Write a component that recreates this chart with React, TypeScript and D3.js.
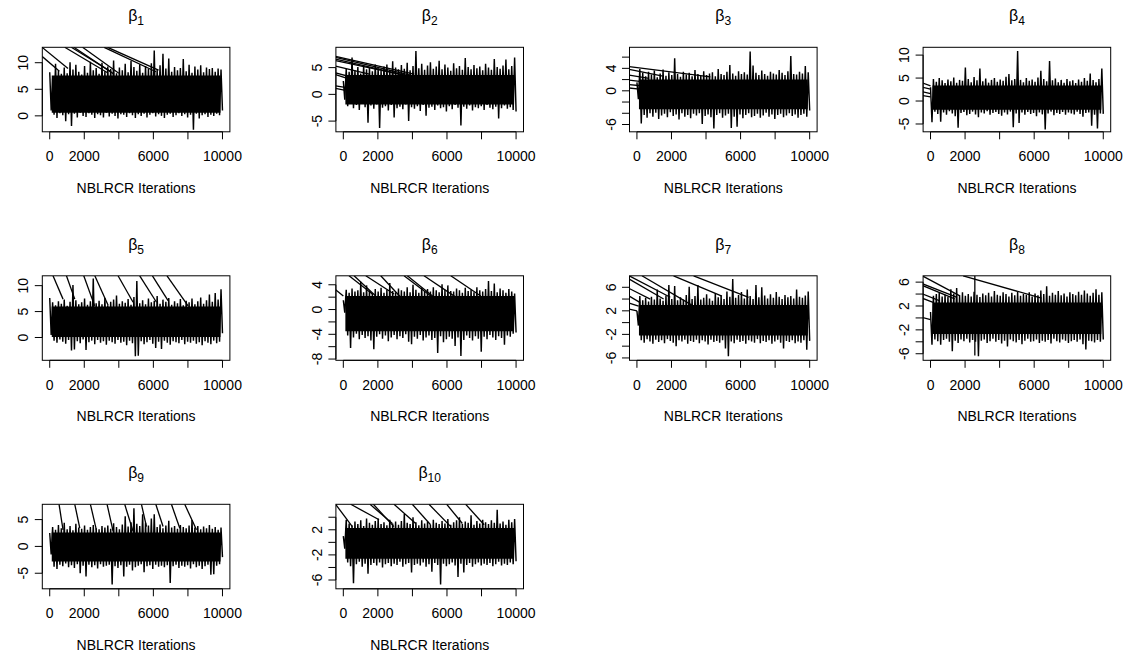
import React from "react";
import * as d3 from "d3";

// ---------- data ----------
const panelSubscripts = ["1", "2", "3", "4", "5", "6", "7", "8", "9", "10"];
const xTickValues = [0, 2000, 4000, 6000, 8000, 10000];
const xTickLabels = ["0", "2000", "", "6000", "", "10000"];
const xAxisTitle = "NBLRCR Iterations";
const iterationRange: [number, number] = [0, 10000];

// value shown at the bottom / top edge of each plot box
const yDomains: [number, number][] = [
  [-3.0, 12.9], [-7.0, 8.8], [-7.3, 7.75], [-6.7, 11.7], [-4.4, 11.9],
  [-8.2, 5.45], [-6.4, 7.95], [-7.1, 7.06], [-7.9, 7.85], [-7.4, 6.06],
];
const yTickValues: number[][] = [
  [0, 5, 10], [-5, 0, 5], [-6, -4, -2, 0, 2, 4, 6], [-5, 0, 5, 10], [0, 5, 10],
  [-8, -6, -4, -2, 0, 2, 4], [-6, -4, -2, 0, 2, 4, 6], [-6, -4, -2, 0, 2, 4, 6],
  [-5, 0, 5], [-6, -4, -2, 0, 2, 4],
];
const yTickLabels: string[][] = [
  ["0", "5", "10"], ["-5", "0", "5"], ["-6", "", "", "0", "", "4", ""], ["-5", "0", "5", "10"],
  ["0", "5", "10"], ["-8", "", "-4", "", "0", "", "4"], ["-6", "", "-2", "", "2", "", "6"],
  ["-6", "", "-2", "", "2", "", "6"], ["-5", "0", "5"], ["-6", "", "-2", "", "2", ""],
];
// dense central part of each trace [low, high]
const coreBands: [number, number][] = [
  [0.6, 7.6], [-1.9, 3.6], [-3.3, 2.0], [-1.9, 3.4], [0.1, 6.0],
  [-3.5, 2.2], [-2.2, 3.0], [-2.7, 2.6], [-2.8, 2.6], [-2.6, 2.3],
];

// successive highs / lows of each trace, left to right
const b1High = [8.2, 7.0, 9.8, 8.5, 7.9, 9.1, 8.0, 10.1, 8.7, 9.6, 8.3, 7.8, 9.4, 8.1, 10.2, 8.6, 9.0, 7.9, 10.0, 8.4, 9.3, 8.8, 10.4, 8.0, 9.1, 8.6, 9.8, 8.2, 10.3, 9.2, 8.5, 9.7, 8.1, 9.4, 8.8, 9.9, 12.3, 8.7, 9.5, 11.7, 8.9, 10.8, 8.3, 9.2, 8.6, 9.0, 10.7, 8.4, 9.6, 8.1, 9.3, 8.7, 9.5, 8.2, 9.1, 8.8, 9.0, 8.3, 8.9, 8.7];
const b1Low = [1.0, 0.2, -0.4, 0.5, 0.1, -1.0, 0.3, -1.9, 0.4, -0.3, 0.6, 0.0, -0.2, 0.5, 0.2, -0.4, 0.3, 0.1, -0.3, 0.6, -0.1, 0.4, 0.0, -0.5, 0.3, 0.2, -0.2, 0.5, 0.1, -0.4, 0.3, 0.0, 0.4, -0.3, 0.2, 0.5, -0.1, 0.3, 0.0, -0.4, 0.2, 0.4, -0.2, 0.1, 0.5, 0.0, 0.3, -0.3, 0.2, -2.6, 0.4, -0.5, 0.1, 0.3, -0.2, 0.2, 0.0, 0.4, 0.1, 1.0];
const b2High = [2.5, 4.8, 4.2, 6.9, 4.5, 5.1, 3.9, 5.4, 4.7, 5.0, 4.3, 5.6, 4.9, 4.4, 5.2, 5.6, 4.6, 6.2, 5.0, 4.7, 5.5, 4.8, 5.9, 4.5, 5.3, 8.1, 4.9, 5.7, 4.6, 5.4, 6.0, 4.8, 5.2, 6.3, 4.7, 5.6, 5.0, 4.4, 5.8, 4.9, 5.3, 4.6, 6.8, 5.1, 4.7, 5.5, 4.9, 5.2, 4.5, 5.7, 5.0, 4.6, 6.6, 5.1, 4.8, 5.4, 6.5, 4.7, 5.3, 6.9];
const b2Low = [-1.0, -2.2, -1.8, -2.6, -2.0, -2.9, -1.7, -2.4, -5.3, -2.1, -2.7, -1.9, -6.3, -2.5, -2.2, -3.0, -2.0, -4.3, -2.6, -2.3, -2.8, -1.9, -5.0, -2.4, -2.7, -2.2, -3.1, -2.0, -4.0, -2.5, -2.3, -2.9, -2.1, -2.6, -2.4, -3.2, -2.2, -2.8, -2.0, -2.5, -5.8, -2.3, -2.7, -2.1, -3.0, -2.4, -2.6, -2.2, -2.9, -2.0, -2.5, -2.8, -2.3, -4.5, -2.6, -2.1, -2.7, -2.4, -2.9, -3.2];
const b3High = [1.5, 3.9, 3.2, 2.6, 3.4, 2.9, 3.6, 2.4, 3.1, 3.8, 2.7, 3.3, 2.8, 5.8, 3.0, 2.5, 3.4, 2.9, 3.2, 2.6, 3.7, 3.0, 2.7, 3.5, 2.8, 3.1, 3.3, 2.6, 3.9, 3.0, 2.8, 3.4, 4.6, 3.1, 2.7, 3.5, 3.0, 3.3, 2.9, 7.0, 4.5, 3.2, 2.8, 3.6, 3.0, 2.7, 3.4, 3.1, 2.9, 3.7, 3.2, 2.8, 3.5, 6.2, 3.0, 2.9, 3.4, 3.1, 4.4, 3.3];
const b3Low = [-1.5, -5.8, -4.3, -4.8, -4.0, -4.6, -3.9, -5.0, -4.4, -4.1, -4.7, -3.8, -4.5, -4.2, -5.1, -4.0, -4.6, -4.3, -4.9, -4.1, -4.4, -4.0, -5.9, -4.5, -4.2, -4.7, -6.7, -4.3, -4.0, -4.8, -4.4, -4.1, -6.6, -4.6, -6.4, -4.2, -4.9, -4.3, -4.0, -4.7, -4.5, -4.1, -4.8, -4.4, -3.9, -4.6, -4.2, -5.0, -4.3, -4.1, -4.7, -4.4, -4.0, -4.5, -4.2, -4.8, -4.3, -4.1, -4.6, -3.5];
const b4High = [3.0, 4.8, 4.2, 5.0, 4.5, 3.9, 4.7, 4.3, 5.1, 4.0, 4.6, 4.4, 7.3, 4.8, 4.1, 5.2, 4.5, 7.1, 4.3, 4.9, 4.0, 4.6, 5.0, 4.2, 4.7, 4.4, 5.3, 5.9, 4.5, 4.8, 10.9, 4.6, 4.1, 5.0, 4.4, 4.7, 4.2, 5.1, 6.6, 4.8, 4.3, 8.7, 4.5, 4.9, 4.1, 4.6, 4.0, 4.8, 4.3, 4.5, 3.9, 4.7, 4.2, 5.0, 4.4, 6.0, 4.6, 4.1, 4.8, 7.1];
const b4Low = [-4.6, -2.3, -2.8, -4.5, -2.5, -3.0, -2.2, -2.7, -3.3, -5.8, -2.6, -2.4, -3.1, -2.8, -2.3, -2.9, -3.5, -2.5, -2.7, -2.2, -3.0, -2.6, -2.4, -2.8, -3.2, -2.5, -2.9, -2.3, -5.7, -2.7, -4.8, -2.5, -3.0, -2.4, -2.8, -2.6, -3.3, -2.5, -2.9, -6.2, -2.7, -2.3, -3.1, -2.6, -2.8, -2.4, -3.0, -2.5, -2.7, -2.9, -2.3, -2.8, -3.4, -2.6, -2.5, -5.4, -3.0, -6.0, -2.7, -2.8];
const b5High = [7.6, 6.8, 6.2, 7.0, 6.5, 7.3, 6.1, 6.9, 10.1, 7.2, 6.4, 6.8, 7.5, 6.3, 7.0, 11.4, 6.6, 7.1, 6.4, 7.6, 6.2, 6.9, 7.3, 8.1, 6.5, 7.0, 6.7, 7.4, 6.3, 7.8, 10.9, 6.6, 7.2, 6.4, 7.5, 6.8, 7.1, 8.0, 6.5, 7.3, 6.9, 7.6, 6.3, 7.0, 6.6, 7.4, 6.2, 7.1, 6.8, 7.5, 6.4, 7.0, 7.7, 6.5, 7.2, 8.3, 6.9, 8.6, 7.3, 9.3];
const b5Low = [0.5, -0.6, -1.0, -0.4, -0.8, -1.2, -0.5, -2.5, -2.3, -0.7, -1.1, -0.4, -2.4, -0.9, -0.6, -1.3, -0.5, -1.0, -0.7, -1.4, -0.6, -0.9, -1.2, -0.5, -1.0, -0.8, -1.5, -0.6, -1.1, -3.6, -3.5, -0.7, -1.3, -0.9, -0.5, -1.2, -2.0, -0.8, -2.2, -0.6, -1.0, -1.4, -0.7, -0.9, -1.1, -0.5, -1.3, -0.8, -1.0, -0.6, -1.2, -0.9, -1.5, -0.7, -1.0, -1.3, -0.6, -1.1, -0.8, 0.8];
const b6High = [1.5, 3.2, 2.7, 3.4, 2.9, 3.1, 4.5, 2.8, 3.9, 3.0, 2.6, 3.3, 2.9, 3.5, 2.7, 3.2, 4.3, 3.0, 2.8, 3.4, 3.1, 2.9, 3.6, 2.8, 4.0, 3.2, 2.7, 3.5, 3.0, 3.3, 2.9, 3.6, 3.1, 2.8, 4.1, 3.2, 3.9, 3.0, 2.9, 3.4, 3.1, 2.7, 3.5, 3.0, 3.2, 2.8, 3.6, 3.1, 2.9, 3.3, 4.6, 3.0, 4.2, 2.8, 3.4, 3.1, 2.7, 3.3, 2.9, 2.6];
const b6Low = [-0.5, -4.2, -6.2, -4.5, -3.9, -4.8, -4.1, -4.6, -4.3, -5.0, -6.4, -4.4, -4.0, -4.7, -4.2, -5.1, -4.5, -4.1, -4.8, -4.3, -4.6, -4.0, -5.2, -5.6, -4.4, -4.7, -4.1, -5.0, -4.5, -4.2, -4.9, -4.6, -7.0, -4.3, -5.3, -4.8, -4.4, -4.7, -5.9, -4.5, -7.5, -4.9, -4.2, -4.6, -5.0, -4.3, -4.7, -6.8, -4.4, -4.8, -4.1, -4.5, -4.9, -4.3, -4.6, -5.7, -4.2, -4.4, -3.9, -3.7];
const b7High = [2.0, 4.5, 3.8, 4.2, 3.6, 4.4, 3.9, 5.6, 4.1, 3.7, 4.6, 6.4, 4.0, 6.2, 3.8, 4.3, 3.9, 4.7, 6.1, 4.0, 4.5, 6.4, 3.9, 4.2, 4.8, 4.1, 3.7, 5.0, 4.3, 4.6, 4.0, 5.3, 4.4, 7.4, 4.2, 4.7, 5.2, 4.1, 5.6, 4.5, 4.0, 6.4, 4.3, 6.0, 4.6, 4.1, 4.8, 4.2, 5.2, 4.4, 4.0, 4.7, 4.3, 4.5, 4.1, 5.6, 4.4, 4.2, 4.6, 5.3];
const b7Low = [-0.5, -3.0, -3.4, -2.8, -3.2, -3.6, -2.9, -3.3, -3.0, -3.5, -2.8, -3.1, -3.4, -4.0, -3.0, -3.2, -2.9, -3.6, -3.1, -3.3, -2.9, -3.5, -3.0, -3.2, -3.7, -2.9, -3.3, -3.1, -3.4, -3.0, -4.4, -5.7, -3.2, -3.5, -2.9, -3.3, -3.1, -3.6, -3.0, -3.2, -3.4, -2.8, -3.5, -3.1, -3.3, -3.0, -3.6, -3.2, -2.9, -3.4, -4.4, -3.1, -3.3, -3.0, -3.5, -3.2, -3.4, -3.0, -4.6, -3.1];
const b8High = [1.0, 3.7, 4.0, 4.2, 3.6, 3.9, 3.5, 4.8, 4.1, 5.0, 3.8, 4.3, 3.7, 4.0, 3.6, 4.4, 3.9, 3.5, 4.1, 3.8, 4.2, 3.6, 4.5, 3.9, 3.7, 4.3, 4.0, 3.6, 4.2, 3.8, 4.4, 3.7, 4.0, 3.9, 4.3, 3.6, 4.1, 3.8, 4.6, 4.0, 5.3, 3.7, 4.2, 3.9, 4.5, 3.8, 4.1, 3.6, 4.3, 4.0, 3.8, 4.4, 3.9, 4.6, 4.1, 3.7, 4.2, 4.8, 3.9, 4.3];
const b8Low = [-4.5, -3.6, -3.9, -4.5, -3.7, -3.5, -4.0, -5.6, -3.8, -4.2, -3.6, -3.9, -3.5, -4.1, -3.7, -4.0, -6.4, -3.8, -3.6, -4.2, -3.9, -3.5, -4.0, -3.7, -4.3, -3.8, -4.8, -3.6, -3.9, -4.1, -3.7, -4.4, -3.8, -3.5, -4.0, -3.9, -3.6, -4.2, -3.8, -4.0, -3.7, -4.3, -3.5, -3.9, -4.1, -3.6, -3.8, -4.2, -3.9, -3.7, -4.0, -3.6, -4.4, -5.3, -3.8, -3.9, -4.1, -3.7, -4.0, -3.6];
const b9High = [2.5, 3.6, 3.1, 4.0, 3.4, 4.4, 3.2, 3.8, 3.0, 4.2, 3.5, 3.3, 3.9, 3.1, 3.6, 4.0, 3.4, 3.2, 3.8, 3.5, 3.9, 3.3, 4.3, 3.6, 3.2, 4.1, 5.6, 3.7, 4.5, 7.1, 4.2, 3.8, 6.0, 4.4, 3.9, 5.2, 6.0, 3.6, 4.1, 3.4, 3.9, 4.8, 3.5, 3.8, 3.3, 4.0, 3.6, 3.4, 3.9, 4.9, 3.5, 3.8, 3.2, 3.7, 3.4, 4.0, 3.3, 3.6, 3.1, 3.5];
const b9Low = [-1.5, -3.8, -4.2, -3.4, -3.7, -3.2, -3.9, -3.5, -4.0, -3.3, -5.0, -3.6, -5.6, -3.4, -3.9, -3.5, -4.1, -3.3, -3.8, -3.6, -3.4, -7.1, -3.7, -4.0, -3.5, -5.6, -3.8, -3.4, -4.5, -3.9, -3.6, -3.3, -4.8, -3.7, -3.5, -4.2, -3.4, -3.8, -3.6, -3.9, -3.5, -6.8, -3.7, -3.4, -4.0, -3.6, -3.8, -3.5, -4.1, -3.3, -3.9, -3.6, -4.2, -3.7, -3.4, -5.3, -5.2, -3.6, -3.3, -2.0];
const b10High = [1.0, 3.6, 3.0, 2.7, 3.3, 2.9, 3.5, 2.6, 3.8, 3.1, 2.8, 3.4, 3.8, 2.9, 3.2, 2.7, 3.6, 3.0, 3.3, 2.8, 3.4, 4.5, 3.1, 2.9, 4.0, 3.2, 2.7, 3.5, 3.0, 3.3, 2.8, 3.6, 3.1, 2.9, 3.4, 3.0, 3.7, 2.8, 3.2, 3.5, 4.0, 2.9, 3.3, 3.1, 4.3, 2.8, 3.4, 3.0, 3.6, 3.2, 2.9, 3.5, 3.1, 5.2, 3.0, 3.3, 2.8, 3.6, 3.2, 3.7];
const b10Low = [-1.0, -3.2, -3.8, -6.5, -3.5, -3.1, -3.9, -3.4, -5.0, -3.6, -3.3, -3.7, -3.2, -4.0, -3.5, -3.3, -3.8, -3.4, -3.6, -3.1, -3.9, -3.5, -3.3, -4.8, -3.6, -3.4, -3.7, -3.2, -3.9, -3.5, -4.7, -3.3, -3.6, -6.7, -3.4, -3.8, -3.5, -3.2, -3.7, -5.5, -3.4, -4.8, -3.6, -3.3, -3.9, -3.5, -3.2, -3.7, -3.4, -3.6, -3.3, -3.8, -3.5, -3.1, -3.7, -3.4, -3.6, -3.2, -3.5, -3.0];

// straight jumps between chains: [x0, y0, x1, y1] in iterations / parameter units
const b1Jumps = [[-446, 12.9, 1060, 8.9], [-446, 11.2, 560, 8.4], [870, 12.9, 3350, 8.1], [1250, 12.9, 3550, 8.3], [1400, 12.9, 3700, 7.9], [1900, 12.9, 4000, 8.0], [3150, 12.9, 6150, 8.3], [3350, 12.9, 6300, 8.6]];
const b2Jumps = [[-446, 7.1, 4100, 3.8], [-446, 6.9, 4000, 3.5], [-446, 6.6, 3800, 3.4], [-446, 6.3, 3500, 3.6], [-446, 5.3, 1500, 3.8], [-446, 4.0, 500, 3.2], [-446, 3.7, 400, 2.8], [-446, 1.6, 100, 1.3], [-446, 1.1, 50, 0.8]];
const b3Jumps = [[-446, 4.3, 4250, 2.5], [-446, 3.8, 1500, 2.6], [-446, 2.8, 700, 2.2], [-446, 1.9, 400, 1.6], [-446, 1.1, 250, 0.9], [-446, 0.5, 150, 0.3]];
const b4Jumps = [[-446, 3.9, 0, 3.3], [-446, 3.0, 0, 2.6], [-446, 2.0, 0, 1.6], [-446, 1.2, 0, 0.9]];
const b5Jumps = [[190, 11.9, 770, 7.4], [967, 11.9, 1450, 7.4], [1970, 11.9, 2600, 6.1], [2610, 11.9, 3380, 6.2], [3955, 11.9, 4825, 6.8], [5210, 11.9, 6180, 6.8], [5945, 11.9, 6850, 7.1], [6790, 11.9, 8010, 6.1]];
const b6Jumps = [[-446, 3.2, 0, 2.2], [330, 5.45, 1680, 2.5], [620, 5.45, 1875, 2.2], [1300, 5.45, 2935, 2.5], [2165, 5.45, 3415, 1.7], [3515, 5.45, 5060, 2.2], [3705, 5.45, 5250, 2.0], [4670, 5.45, 6510, 2.0], [6220, 5.45, 7955, 2.2]];
const b7Jumps = [[-446, 7.95, 1930, 4.3], [-446, 7.4, 1545, 4.0], [-446, 5.8, 770, 4.0], [-446, 4.5, 190, 3.4], [-446, 3.3, 100, 2.8], [-446, 2.3, 0, 2.0], [290, 7.95, 3280, 2.8], [2120, 7.95, 4920, 4.5], [3280, 7.95, 6465, 4.3]];
const b8Jumps = [[-446, 7.0, 1700, 3.7], [1890, 7.06, 6425, 3.3], [-446, 5.7, 1500, 3.5], [-446, 5.4, 1400, 3.2], [-446, 4.0, 540, 2.85], [-446, 3.26, 150, 2.6], [-446, 0.07, 0, -0.3], [2565, 7.06, 2565, -6.3]];
const b9Jumps = [[540, 7.85, 770, 3.1], [1450, 7.85, 1740, 3.4], [2355, 7.85, 2700, 3.1], [3320, 7.85, 3670, 2.8], [4340, 7.85, 4825, 2.8], [5310, 7.85, 5600, 3.7], [6140, 7.85, 6560, 3.7], [7045, 7.85, 7530, 3.4], [7815, 7.85, 8495, 3.1]];
const b10Jumps = [[-446, 6.06, 520, 2.5], [430, 6.06, 2070, 3.6], [1545, 6.06, 2840, 3.0], [1740, 6.06, 2925, 2.5], [2935, 6.06, 4190, 3.0], [3995, 6.06, 5050, 2.8], [4960, 6.06, 6220, 2.5], [5985, 6.06, 6890, 3.0], [7085, 6.06, 8150, 2.8]];

const traceHighs = [b1High, b2High, b3High, b4High, b5High, b6High, b7High, b8High, b9High, b10High];
const traceLows = [b1Low, b2Low, b3Low, b4Low, b5Low, b6Low, b7Low, b8Low, b9Low, b10Low];
const traceJumps = [b1Jumps, b2Jumps, b3Jumps, b4Jumps, b5Jumps, b6Jumps, b7Jumps, b8Jumps, b9Jumps, b10Jumps];

// ---------- layout ----------
const W = 1131;
const H = 656;
const BOX_LEFT0 = 42.3;
const COL_STEP = 293.6;
const BOX_TOP0 = 47.3;
const ROW_STEP = 228.5;
const BOX_W = 187.6;
const BOX_H = 84.5;
const X_PAD = 430;
const FONT = "'Liberation Sans', Arial, Helvetica, sans-serif";
const AXIS_FS = 14;
const TICK = 7.5;

function Panel({ k }: { k: number }) {
  const col = k % 4;
  const row = Math.floor(k / 4);
  const left = BOX_LEFT0 + col * COL_STEP;
  const top = BOX_TOP0 + row * ROW_STEP;
  const right = left + BOX_W;
  const bottom = top + BOX_H;

  const x = d3.scaleLinear().domain([iterationRange[0] - X_PAD, iterationRange[1] + X_PAD]).range([left, right]);
  const y = d3.scaleLinear().domain(yDomains[k]).range([bottom, top]);

  const highs = traceHighs[k];
  const lows = traceLows[k];
  const n = highs.length;
  const step = (iterationRange[1] - iterationRange[0]) / (n - 0.5);
  const pts: [number, number][] = [];
  for (let i = 0; i < n; i++) {
    pts.push([iterationRange[0] + i * step, highs[i]]);
    pts.push([iterationRange[0] + (i + 0.5) * step, lows[i]]);
  }
  const line = d3.line<[number, number]>().x((d) => x(d[0])).y((d) => y(d[1]));
  const core = coreBands[k];
  const area = d3
    .area<number>()
    .x((d) => x(d))
    .y0(() => y(core[0]))
    .y1(() => y(core[1]));

  const clipId = `clip-${k}`;
  const ticksY = yTickValues[k];
  const labelsY = yTickLabels[k];

  return (
    <g>
      <defs>
        <clipPath id={clipId}>
          <rect x={left} y={top} width={BOX_W} height={BOX_H} />
        </clipPath>
      </defs>
      <g clipPath={`url(#${clipId})`}>
        <path d={area([iterationRange[0] + step * 0.7, iterationRange[1] - step * 0.7]) || ""} fill="#000" />
        <path d={line(pts) || ""} fill="none" stroke="#000" strokeWidth={1.45} strokeLinejoin="bevel" />
        {traceJumps[k].map((s, i) => (
          <line key={i} x1={x(s[0])} y1={y(s[1])} x2={x(s[2])} y2={y(s[3])} stroke="#000" strokeWidth={1.3} />
        ))}
      </g>
      <rect x={left} y={top} width={BOX_W} height={BOX_H} fill="none" stroke="#000" strokeWidth={1} />
      {/* title */}
      <text x={(left + right) / 2} y={top - 26} textAnchor="middle" fontFamily={FONT} fontSize={16} fill="#000">
        β<tspan fontSize={12} dy={4}>{panelSubscripts[k]}</tspan>
      </text>
      {/* x axis */}
      <line x1={x(xTickValues[0])} x2={x(xTickValues[xTickValues.length - 1])} y1={bottom} y2={bottom} stroke="#000" />
      {xTickValues.map((t, i) => (
        <g key={i}>
          <line x1={x(t)} x2={x(t)} y1={bottom} y2={bottom + TICK} stroke="#000" />
          {xTickLabels[i] && (
            <text x={x(t)} y={bottom + 29.5} textAnchor="middle" fontFamily={FONT} fontSize={AXIS_FS} fill="#000">
              {xTickLabels[i]}
            </text>
          )}
        </g>
      ))}
      <text x={(left + right) / 2} y={bottom + 61} textAnchor="middle" fontFamily={FONT} fontSize={AXIS_FS} fill="#000">
        {xAxisTitle}
      </text>
      {/* y axis */}
      <line x1={left} x2={left} y1={y(ticksY[0])} y2={y(ticksY[ticksY.length - 1])} stroke="#000" />
      {ticksY.map((t, i) => (
        <g key={i}>
          <line x1={left - TICK} x2={left} y1={y(t)} y2={y(t)} stroke="#000" />
          {labelsY[i] && (
            <text
              transform={`translate(${left - 14},${y(t)}) rotate(-90)`}
              textAnchor="middle"
              fontFamily={FONT}
              fontSize={AXIS_FS}
              fill="#000"
            >
              {labelsY[i]}
            </text>
          )}
        </g>
      ))}
    </g>
  );
}

export default function App() {
  return (
    <svg
      width={W}
      height={H}
      viewBox={`0 0 ${W} ${H}`}
      style={{ position: "absolute", left: 0, top: 0, background: "#fff" }}
    >
      <rect x={0} y={0} width={W} height={H} fill="#fff" />
      {panelSubscripts.map((_, k) => (
        <Panel key={k} k={k} />
      ))}
    </svg>
  );
}
